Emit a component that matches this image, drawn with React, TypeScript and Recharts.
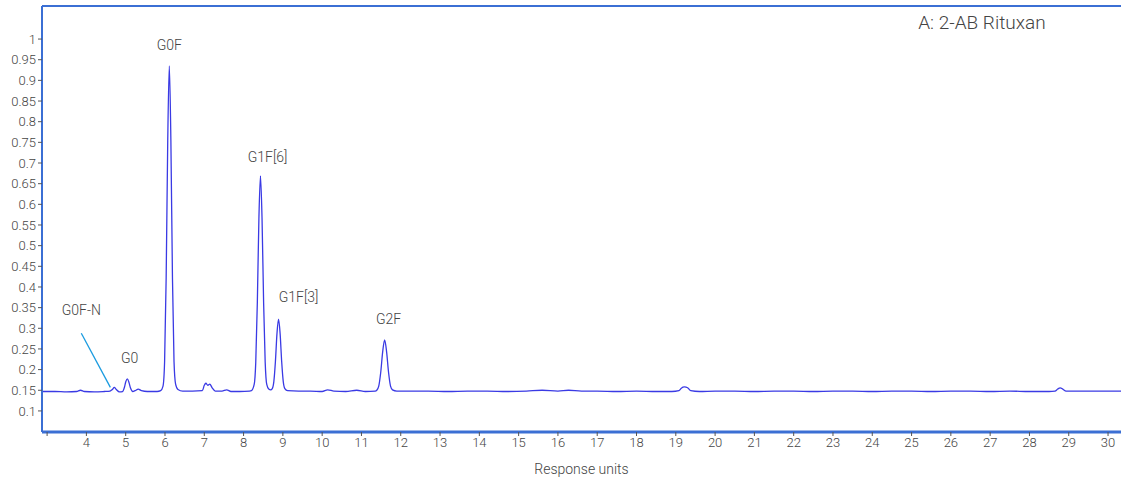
import React from "react"
import {
  LineChart,
  Line,
  XAxis,
  YAxis,
  ReferenceLine,
  ReferenceDot,
} from "recharts"

// retention time (x) and signal (y)
const times = [
  2.87, 3.2, 3.5, 3.75, 3.85, 3.95, 4.2, 4.45, 4.6, 4.66, 4.71, 4.76, 4.84, 4.92, 4.97, 5.0, 5.04,
  5.08, 5.12, 5.18, 5.24, 5.32, 5.4, 5.55, 5.8, 5.89, 5.95, 5.99, 6.03, 6.07, 6.11, 6.15, 6.19, 6.23,
  6.27, 6.33, 6.45, 6.7, 6.95, 7.0, 7.04, 7.09, 7.14, 7.2, 7.28, 7.45, 7.57, 7.68, 7.9, 8.15, 8.2,
  8.27, 8.31, 8.35, 8.39, 8.43, 8.47, 8.51, 8.55, 8.59, 8.64, 8.69, 8.73, 8.77, 8.81, 8.85, 8.89,
  8.93, 8.97, 9.01, 9.05, 9.12, 9.4, 9.7, 10.0, 10.14, 10.3, 10.6, 10.88, 11.1, 11.35, 11.39, 11.44,
  11.49, 11.54, 11.59, 11.64, 11.69, 11.74, 11.79, 11.9, 12.3, 12.7, 13.2, 13.7, 14.2, 14.7, 15.2,
  15.6, 16.0, 16.27, 16.6, 17.0, 17.5, 18.0, 18.5, 18.9, 19.08, 19.14, 19.22, 19.3, 19.38, 19.6,
  20.0, 20.5, 21.0, 21.5, 22.0, 22.5, 23.0, 23.5, 24.0, 24.5, 25.0, 25.5, 26.0, 26.5, 27.0, 27.5,
  28.0, 28.5, 28.65, 28.72, 28.78, 28.86, 28.93, 29.3, 29.8, 30.33,
]
const signal = [
  0.147, 0.147, 0.146, 0.147, 0.15, 0.147, 0.146, 0.147, 0.148, 0.152, 0.157, 0.152, 0.146, 0.147,
  0.158, 0.17, 0.1775, 0.17, 0.156, 0.147, 0.149, 0.153, 0.149, 0.147, 0.147, 0.149, 0.16, 0.219,
  0.423, 0.754, 0.935, 0.754, 0.423, 0.219, 0.165, 0.152, 0.148, 0.148, 0.149, 0.162, 0.167, 0.162,
  0.165, 0.156, 0.148, 0.148, 0.151, 0.147, 0.147, 0.148, 0.149, 0.164, 0.218, 0.362, 0.565, 0.669,
  0.565, 0.362, 0.218, 0.164, 0.153, 0.151, 0.154, 0.171, 0.219, 0.287, 0.322, 0.287, 0.219, 0.171,
  0.154, 0.149, 0.148, 0.148, 0.147, 0.151, 0.148, 0.147, 0.15, 0.147, 0.148, 0.15, 0.16, 0.193,
  0.243, 0.272, 0.243, 0.193, 0.16, 0.151, 0.148, 0.148, 0.148, 0.147, 0.148, 0.148, 0.147, 0.148,
  0.15, 0.148, 0.15, 0.148, 0.148, 0.147, 0.148, 0.147, 0.147, 0.149, 0.155, 0.158, 0.156, 0.149,
  0.147, 0.148, 0.148, 0.147, 0.148, 0.148, 0.147, 0.148, 0.148, 0.147, 0.148, 0.148, 0.147, 0.148,
  0.148, 0.147, 0.148, 0.147, 0.147, 0.148, 0.153, 0.156, 0.152, 0.148, 0.148, 0.148, 0.148,
]

const xTicks = [3, 4, 5, 6, 7, 8, 9, 10, 11, 12, 13, 14, 15, 16, 17, 18, 19, 20, 21, 22, 23, 24, 25, 26, 27, 28, 29, 30]
const yTicks = [0.1, 0.15, 0.2, 0.25, 0.3, 0.35, 0.4, 0.45, 0.5, 0.55, 0.6, 0.65, 0.7, 0.75, 0.8, 0.85, 0.9, 0.95, 1]

// peak names and where their labels sit (data units)
const peakNames = ["G0F-N", "G0", "G0F", "G1F[6]", "G1F[3]", "G2F"]
const peakLabelX = [3.87, 5.1, 6.11, 8.61, 9.4, 11.69]
const peakLabelY = [0.344, 0.227, 0.985, 0.714, 0.375, 0.322]

const data = times.map((t, i) => ({ t, v: signal[i] }))

const FRAME = "#3b6fd4"
const TEXT = "#444"
const FONT = "Roboto, 'Noto Sans', sans-serif"

const PeakLabel = ({ viewBox, text }: any) => (
  <text
    x={viewBox.x}
    y={viewBox.y}
    textAnchor="middle"
    dominantBaseline="central"
    fontSize={14}
    fontWeight={300}
    fontFamily={FONT}
    fill={TEXT}
  >
    {text}
  </text>
)

const App = () => (
  <div style={{ position: "absolute", left: 0, top: 0, width: 1121, height: 480 }}>
    <LineChart width={1121} height={480} data={data} margin={{ top: 6, right: 0, bottom: 0, left: 0 }}>
      <XAxis
        dataKey="t"
        type="number"
        domain={[2.87, 30.33]}
        ticks={xTicks}
        interval={0}
        tickFormatter={(v: number) => (v === 3 ? "" : String(v))}
        axisLine={{ stroke: FRAME, strokeWidth: 3 }}
        tickLine={{ stroke: "#555" }}
        tickSize={4}
        tick={{ fontSize: 13, fill: TEXT, fontFamily: FONT, fontWeight: 300 }}
        height={48}
        allowDataOverflow
        label={{ value: "Response units", position: "insideBottom", offset: 6, fontSize: 14, fill: TEXT, fontFamily: FONT, fontWeight: 300 }}
      />
      <YAxis
        type="number"
        domain={[0.049, 1.08]}
        ticks={yTicks}
        interval={0}
        tickFormatter={(v: number) => String(v)}
        axisLine={{ stroke: FRAME, strokeWidth: 2 }}
        tickLine={{ stroke: "#555" }}
        tickSize={4}
        tick={{ fontSize: 13, fill: TEXT, fontFamily: FONT, fontWeight: 300 }}
        width={42}
        allowDataOverflow
      />
      <ReferenceLine y={1.08} stroke={FRAME} strokeWidth={2} />
      <ReferenceLine
        segment={[
          { x: 3.87, y: 0.288 },
          { x: 4.61, y: 0.157 },
        ]}
        stroke="#1a9be0"
        strokeWidth={1.3}
      />
      <Line
        type="monotone"
        dataKey="v"
        stroke="#3a3ae4"
        strokeWidth={1.3}
        dot={false}
        isAnimationActive={false}
      />
      {peakNames.map((name, i) => (
        <ReferenceDot
          key={name}
          x={peakLabelX[i]}
          y={peakLabelY[i]}
          r={0}
          fill="none"
          stroke="none"
          label={<PeakLabel text={name} />}
        />
      ))}
      <ReferenceDot
        x={26.79}
        y={1.04}
        r={0}
        fill="none"
        stroke="none"
        label={(props: any) => (
          <text
            x={props.viewBox.x}
            y={props.viewBox.y}
            textAnchor="middle"
            dominantBaseline="central"
            fontSize={19}
            fontWeight={300}
            fontFamily={FONT}
            fill={TEXT}
          >
            A: 2-AB Rituxan
          </text>
        )}
      />
    </LineChart>
  </div>
)

export default App
